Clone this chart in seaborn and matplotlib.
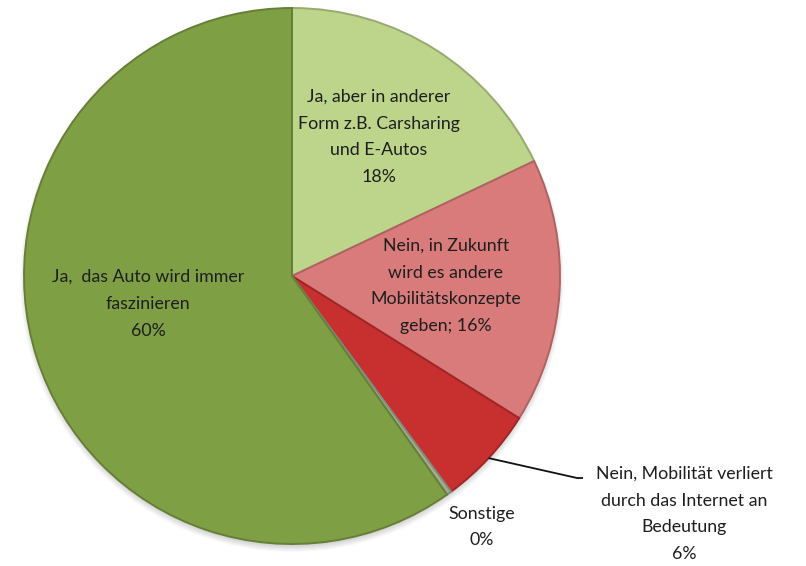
import numpy as np
import matplotlib
matplotlib.use("Agg")
import matplotlib.pyplot as plt
import matplotlib.colors as mcolors
from matplotlib.patches import Circle
import seaborn as sns

# Survey answers: "Wird das Auto auch in Zukunft faszinieren?"
categories = [
    "Ja, aber in anderer\nForm z.B. Carsharing\nund E-Autos",
    "Nein, in Zukunft\nwird es andere\nMobilitätskonzepte\ngeben",
    "Nein, Mobilität verliert\ndurch das Internet an\nBedeutung",
    "Sonstige",
    "Ja,  das Auto wird immer\nfaszinieren",
]
shares = [18, 16, 6, 0.3, 60]
colors = ["#bdd58b", "#d97b7b", "#c8302f", "#a3ab93", "#7f9f45"]

sns.set_theme(style="white")
plt.rcParams["font.family"] = ["Lato", "DejaVu Sans"]

W, H = 806, 566
fig = plt.figure(figsize=(W / 100, H / 100), dpi=100)
ax = fig.add_axes([0, 0, 1, 1])

cx, cy, R = 292, H - 276, 268

# soft drop shadow under the pie
for i in range(10):
    ax.add_patch(Circle((cx, cy - 4), R + 4 - i * 0.8, facecolor="#000000",
                        alpha=0.018, edgecolor="none", zorder=0))

edge_cols = [mcolors.to_hex(np.array(mcolors.to_rgb(c)) * 0.8) for c in colors]
wedges, _ = ax.pie(
    shares, colors=colors, startangle=90, counterclock=False,
    center=(cx, cy), radius=R, frame=True,
    wedgeprops=dict(linewidth=1.4),
)
for w, ec in zip(wedges, edge_cols):
    w.set_edgecolor(ec)
    w.set_zorder(2)

ax.set_xlim(0, W)
ax.set_ylim(0, H)
ax.set_aspect("equal")
ax.axis("off")

total = sum(shares)
fs = 12.8
ls = 1.84
tc = "#1e1e1e"

def pct(v):
    return f"{v:.0f}%"

# in-slice labels
ax.text(379, H - 137, f"{categories[0]}\n{pct(shares[0])}", ha="center", va="center",
        fontsize=fs, color=tc, linespacing=ls, zorder=3)
ax.text(446, H - 286, f"{categories[1]}; {pct(shares[1])}", ha="center", va="center",
        fontsize=fs, color=tc, linespacing=ls, zorder=3)
ax.text(148, H - 304, f"{categories[4]}\n{pct(shares[4])}", ha="center", va="center",
        fontsize=fs, color=tc, linespacing=ls, zorder=3)

# outside labels
ax.text(482, H - 527, f"{categories[3]}\n{pct(shares[3])}", ha="center", va="center",
        fontsize=fs, color=tc, linespacing=ls, zorder=3)
ax.text(684, H - 514, f"{categories[2]}\n{pct(shares[2])}", ha="center", va="center",
        fontsize=fs, color=tc, linespacing=ls, zorder=3)

# leader line from the middle of the small red slice
start = sum(shares[:2])
mid = start + shares[2] / 2
ang = np.deg2rad(90 - 360 * mid / total)
ex, ey = cx + R * np.cos(ang), cy + R * np.sin(ang)
ax.plot([ex, 577, 583], [ey, H - 478, H - 478], color="#111111", lw=1.3,
        solid_capstyle="butt", zorder=3)

fig.savefig("out.png", dpi=100, facecolor="white")
